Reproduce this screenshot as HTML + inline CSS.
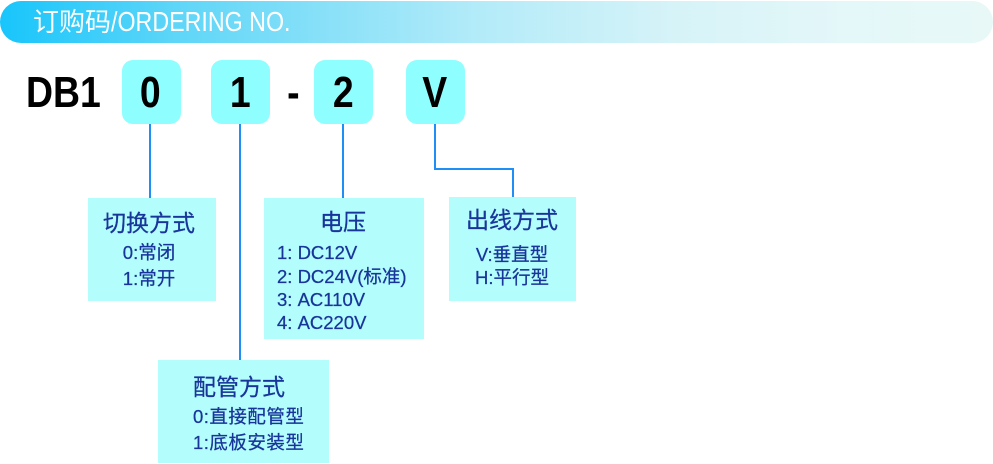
<!DOCTYPE html>
<html>
<head>
<meta charset="utf-8">
<style>
html,body{margin:0;padding:0;background:#fff;}
body{width:993px;height:464px;position:relative;overflow:hidden;font-family:"Liberation Sans","Noto Sans CJK SC",sans-serif;}
.banner{position:absolute;left:0;top:1px;width:993px;height:42px;border-radius:21px;
 background:linear-gradient(to right,#18c5fb 0%,#5fd6f8 18%,#b3ebf9 48%,#d6f3f8 68%,#e4f7f9 85%,#e7f8f7 100%);}
.btxt{position:absolute;left:33px;top:1px;height:42px;line-height:42px;font-size:26px;color:#fff;white-space:nowrap;}
.btxt .lat{display:inline-block;transform:scaleX(0.83);transform-origin:left center;font-size:28px;}
.big{position:absolute;font-weight:bold;font-size:44px;line-height:44px;color:#000;white-space:nowrap;}
.tb{position:absolute;top:60px;width:59px;height:64px;border-radius:11px;background:#8ffefe;}
.dg{position:absolute;top:71px;width:60px;text-align:center;font-weight:bold;font-size:44px;line-height:44px;color:#000;}
.dg span{display:inline-block;transform:scaleX(0.85);}
.ln{position:absolute;background:#1f8ff5;}
.box{position:absolute;background:#b3fdfd;}
.t{position:absolute;color:#18359a;white-space:nowrap;font-family:"Liberation Sans","Noto Sans CJK SC",sans-serif;-webkit-text-stroke:0.25px #18359a;}
.h{font-size:23px;height:30px;line-height:30px;}
.s{font-size:18.5px;height:24px;line-height:24px;}
.c{text-align:center;}
</style>
</head>
<body>
<div class="banner"></div>
<div class="btxt">订购码<span class="lat">/ORDERING NO.</span></div>

<div class="big" style="left:26px;top:71px;"><span style="display:inline-block;transform:scaleX(0.85);transform-origin:left center;">DB1</span></div>

<div class="tb" style="left:122px;"></div>
<div class="tb" style="left:211px;"></div>
<div class="tb" style="left:314px;"></div>
<div class="tb" style="left:406px;"></div>

<div class="dg" style="left:120px;"><span>0</span></div>
<div class="dg" style="left:210px;"><span>1</span></div>
<div class="dg" style="left:263px;"><span>-</span></div>
<div class="dg" style="left:313px;"><span>2</span></div>
<div class="dg" style="left:405px;"><span>V</span></div>

<!-- connectors -->
<div class="ln" style="left:149px;top:124px;width:2px;height:74px;"></div>
<div class="ln" style="left:239px;top:124px;width:2px;height:236px;"></div>
<div class="ln" style="left:342px;top:124px;width:2px;height:74px;"></div>
<div class="ln" style="left:434px;top:124px;width:2px;height:46px;"></div>
<div class="ln" style="left:434px;top:168px;width:80px;height:2px;"></div>
<div class="ln" style="left:512px;top:168px;width:2px;height:30px;"></div>

<!-- boxes -->
<div class="box" style="left:88px;top:198px;width:128px;height:103px;"></div>
<div class="box" style="left:264px;top:198px;width:160px;height:141px;"></div>
<div class="box" style="left:449px;top:197px;width:127px;height:104px;"></div>
<div class="box" style="left:158px;top:360px;width:171px;height:103px;"></div>

<!-- 切换方式 -->
<div class="t h c" style="left:89px;width:120px;top:208px;">切换方式</div>
<div class="t s c" style="left:89px;width:120px;top:241px;">0:常闭</div>
<div class="t s c" style="left:89px;width:120px;top:267px;">1:常开</div>

<!-- 电压 -->
<div class="t h c" style="left:283px;width:120px;top:207px;">电压</div>
<div class="t s" style="left:277px;top:241px;">1:&nbsp;DC12V</div>
<div class="t s" style="left:277px;top:265px;">2:&nbsp;DC24V(标准)</div>
<div class="t s" style="left:277px;top:288px;">3:&nbsp;AC110V</div>
<div class="t s" style="left:277px;top:311px;">4:&nbsp;AC220V</div>

<!-- 出线方式 -->
<div class="t h c" style="left:452px;width:120px;top:205px;">出线方式</div>
<div class="t s c" style="left:452px;width:120px;top:243px;">V:垂直型</div>
<div class="t s c" style="left:452px;width:120px;top:266px;">H:平行型</div>

<!-- 配管方式 -->
<div class="t h" style="left:193px;top:372px;">配管方式</div>
<div class="t s" style="left:193px;top:405px;letter-spacing:0.5px;">0:直接配管型</div>
<div class="t s" style="left:193px;top:431px;letter-spacing:0.5px;">1:底板安装型</div>
</body>
</html>
